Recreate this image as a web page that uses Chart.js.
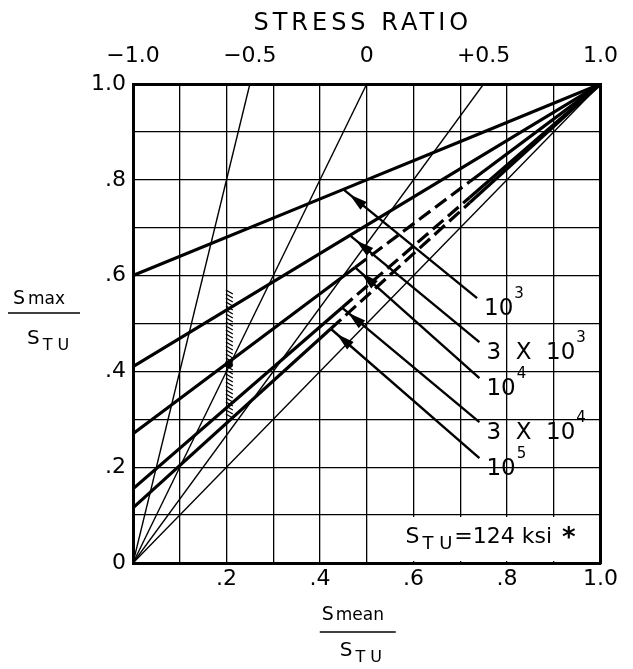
<!DOCTYPE html>
<html>
<head>
<meta charset="utf-8">
<script src="https://cdn.jsdelivr.net/npm/chart.js@4.4.1/dist/chart.umd.min.js"></script>
<style>
  html, body { margin: 0; padding: 0; background: #fff; }
  #wrap { width: 633px; height: 669px; }
</style>
</head>
<body>
<div id="wrap"><canvas id="chart" width="633" height="669"></canvas></div>
<script>
// stress ratio scale along the top
var ratioLabels = ["\u22121.0", "\u22120.5", "0", "+0.5", "1.0"];
var ratioTickPos = [0, 0.25, 0.5, 0.75, 1.0];

// stress ratio rays from the origin, end points on the top edge
var rayEndX = [0.25, 0.5, 0.75, 1.0];
var rayEndY = [1.0, 1.0, 1.0, 1.0];

// constant life lines (cycles)
var lifeBase = ["10", "3 X 10", "10", "3 X 10", "10"];
var lifeExp = ["3", "3", "4", "4", "5"];
var lifeStartY = [0.60, 0.41, 0.27, 0.155, 0.115];
var lifeTipX = [0.45, 0.464, 0.475, 0.447, 0.423];
var lifeTipY = [0.78, 0.684, 0.617, 0.533, 0.489];
// where the broken part of a line joins the solid part again
var lifeJoinX = [0.72, 0.72, 0.72, 0.72, 0.72];
var lifeJoinY = [0.888, 0.835, 0.796, 0.763, 0.752];
var lifeDashed = [false, false, true, true, true];

// leader arrows, tail end at the labels
var arrowTailX = [0.736, 0.741, 0.741, 0.741, 0.741];
var arrowTailY = [0.553, 0.461, 0.386, 0.294, 0.219];

// scatter band at Smean/Stu = .2
var bandX = 0.205;
var bandLow = 0.31;
var bandHigh = 0.57;
var bandPointY = 0.415;

var fontFam = "'DejaVu Sans', sans-serif";

var datasets = [];
for (var i = 0; i < rayEndX.length; i++) {
  datasets.push({
    data: [{x: 0, y: 0}, {x: rayEndX[i], y: rayEndY[i]}],
    borderColor: "#000",
    borderWidth: 1.4,
    pointRadius: 0,
    fill: false
  });
}
for (var j = 0; j < lifeStartY.length; j++) {
  (function(k){
    datasets.push({
      data: [{x: 0, y: lifeStartY[k]}, {x: lifeTipX[k], y: lifeTipY[k]},
             {x: lifeJoinX[k], y: lifeJoinY[k]}, {x: 1, y: 1}],
      borderColor: "#000",
      borderWidth: 3.2,
      pointRadius: 0,
      fill: false,
      segment: {
        borderDash: function(c){ return (lifeDashed[k] && c.p0DataIndex === 1) ? [14, 6] : undefined; }
      }
    });
  })(j);
}

function tenths(v){
  var n = Math.round(v * 10);
  if (n % 2 !== 0) return "";
  if (n === 10) return "1.0";
  if (n === 0) return "";
  return "." + n;
}

function drawStu(ctx, x, y, size){
  // S with T U lowered
  ctx.textAlign = "left";
  ctx.textBaseline = "alphabetic";
  ctx.font = size + "px " + fontFam;
  ctx.fillText("S", x, y);
  var w = ctx.measureText("S").width;
  ctx.font = Math.round(size * 0.8) + "px " + fontFam;
  ctx.fillText("T U", x + w + 3, y + 6);
  return x + w + 3 + ctx.measureText("T U").width;
}

var extras = {
  id: "extras",
  afterDatasetsDraw: function(chart){
    var ctx = chart.ctx;
    var xs = chart.scales.x, ys = chart.scales.y;
    ctx.save();
    ctx.strokeStyle = "#000";
    ctx.fillStyle = "#000";

    // scatter band hatch
    var bx = xs.getPixelForValue(bandX);
    var top = ys.getPixelForValue(bandHigh), bot = ys.getPixelForValue(bandLow);
    ctx.lineWidth = 1.3;
    for (var yy = top; yy < bot; yy += 4) {
      ctx.beginPath();
      ctx.moveTo(bx - 3, yy);
      ctx.lineTo(bx + 4, yy + 4);
      ctx.stroke();
    }
    ctx.beginPath();
    ctx.arc(bx, ys.getPixelForValue(bandPointY), 4, 0, Math.PI * 2);
    ctx.fill();

    // leader arrows and labels
    for (var i = 0; i < lifeBase.length; i++) {
      var tx = xs.getPixelForValue(arrowTailX[i]), ty = ys.getPixelForValue(arrowTailY[i]);
      var hx = xs.getPixelForValue(lifeTipX[i]), hy = ys.getPixelForValue(lifeTipY[i]);
      ctx.lineWidth = 2.4;
      ctx.beginPath();
      ctx.moveTo(tx, ty);
      ctx.lineTo(hx, hy);
      ctx.stroke();
      var ang = Math.atan2(hy - ty, hx - tx);
      var ax = hx - Math.cos(ang) * 8, ay = hy - Math.sin(ang) * 8;
      ctx.beginPath();
      ctx.moveTo(ax, ay);
      ctx.lineTo(ax - Math.cos(ang) * 18 + Math.sin(ang) * 5, ay - Math.sin(ang) * 18 - Math.cos(ang) * 5);
      ctx.lineTo(ax - Math.cos(ang) * 18 - Math.sin(ang) * 5, ay - Math.sin(ang) * 18 + Math.cos(ang) * 5);
      ctx.closePath();
      ctx.fill();

      ctx.font = "23px " + fontFam;
      ctx.textAlign = "left";
      ctx.textBaseline = "alphabetic";
      var lx = tx + 7, ly = ty + 17;
      var txt = lifeBase[i].replace(/ /g, "  ");
      ctx.fillText(txt, lx, ly);
      var w = ctx.measureText(txt).width;
      ctx.font = "15px " + fontFam;
      ctx.fillText(lifeExp[i], lx + w + 1, ly - 17);
    }

    // Stu box in the lower right
    var rx0 = xs.getPixelForValue(0.57), rx1 = xs.getPixelForValue(1.0);
    var ry0 = ys.getPixelForValue(0.096), ry1 = ys.getPixelForValue(0.004);
    ctx.fillStyle = "#fff";
    ctx.fillRect(rx0, ry0, rx1 - rx0 - 2, ry1 - ry0);
    ctx.fillStyle = "#000";
    var ex = drawStu(ctx, rx0 + 6, ry0 + 26, 22);
    ctx.font = "22px " + fontFam;
    ctx.fillText("=124 ksi", ex + 2, ry0 + 26);
    var ew = ctx.measureText("=124 ksi").width;
    ctx.font = "bold 26px " + fontFam;
    ctx.fillText("*", ex + ew + 12, ry0 + 29);
    ctx.restore();
  },
  afterDraw: function(chart){
    var ctx = chart.ctx;
    var a = chart.chartArea;
    ctx.save();
    ctx.fillStyle = "#000";
    ctx.strokeStyle = "#000";
    // top title, spaced out
    ctx.font = "24px " + fontFam;
    ctx.letterSpacing = "4px";
    ctx.textAlign = "center";
    ctx.textBaseline = "middle";
    ctx.fillText("STRESS RATIO", (a.left + a.right) / 2 - 4, 24);
    ctx.letterSpacing = "0px";
    ctx.textBaseline = "alphabetic";
    // y title fraction
    ctx.font = "19px " + fontFam;
    ctx.textAlign = "left";
    ctx.fillText("S", 13, 304);
    ctx.font = "17px " + fontFam;
    ctx.fillText("max", 28, 304);
    ctx.lineWidth = 1.6;
    ctx.beginPath(); ctx.moveTo(8, 313); ctx.lineTo(80, 313); ctx.stroke();
    drawStu(ctx, 27, 344, 20);
    // x title fraction
    var cx = (a.left + a.right) / 2 - 9;
    ctx.font = "19px " + fontFam;
    ctx.fillText("S", cx - 36, 620);
    ctx.font = "17px " + fontFam;
    ctx.fillText("mean", cx - 22, 620);
    ctx.beginPath(); ctx.moveTo(cx - 38, 632); ctx.lineTo(cx + 38, 632); ctx.stroke();
    drawStu(ctx, cx - 18, 656, 20);
    ctx.restore();
  }
};

var tickFont = {family: fontFam, size: 22};

new Chart(document.getElementById("chart"), {
  type: "line",
  data: {datasets: datasets},
  options: {
    responsive: false,
    animation: false,
    layout: {padding: 0},
    plugins: {legend: {display: false}, tooltip: {enabled: false}},
    scales: {
      x: {
        type: "linear", position: "bottom", min: 0, max: 1,
        ticks: {stepSize: 0.1, autoSkip: false, maxRotation: 0, padding: 3, color: "#000", font: tickFont, callback: function(v){ return tenths(v); }},
        grid: {color: "#000", lineWidth: 1.3, drawTicks: false},
        border: {color: "#000", width: 3},
        afterFit: function(s){ s.height = 106; }
      },
      x2: {
        type: "linear", position: "top", min: 0, max: 1,
        afterBuildTicks: function(s){ s.ticks = ratioTickPos.map(function(v){ return {value: v}; }); },
        ticks: {autoSkip: false, maxRotation: 0, padding: 15, color: "#000", font: tickFont, callback: function(v, i){ return ratioLabels[i]; }},
        grid: {display: false, drawTicks: false},
        border: {color: "#000", width: 3},
        afterFit: function(s){ s.height = 84; }
      },
      y: {
        type: "linear", position: "left", min: 0, max: 1,
        ticks: {stepSize: 0.1, autoSkip: false, padding: 7, color: "#000", font: tickFont, callback: function(v){ return Math.round(v * 10) === 0 ? "0" : tenths(v); }},
        grid: {color: "#000", lineWidth: 1.3, drawTicks: false},
        border: {color: "#000", width: 3},
        afterFit: function(s){ s.width = 133; }
      },
      y2: {
        type: "linear", position: "right", min: 0, max: 1,
        ticks: {display: false},
        grid: {display: false, drawTicks: false},
        border: {color: "#000", width: 3},
        afterFit: function(s){ s.width = 22; }
      }
    }
  },
  plugins: [extras]
});
</script>
</body>
</html>
